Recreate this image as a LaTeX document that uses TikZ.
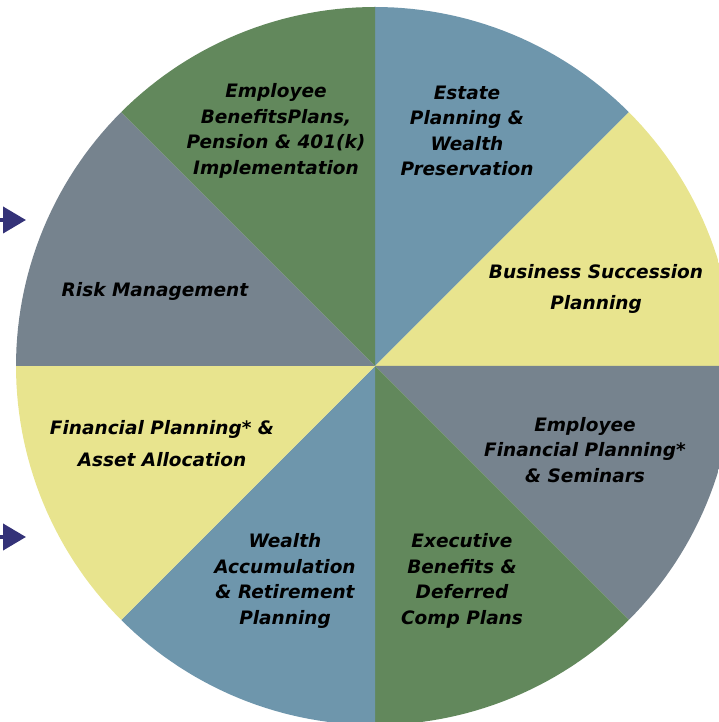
\documentclass[tikz,border=0pt]{standalone}
\usepackage{fontspec}
\setmainfont{DejaVu Sans}
\usetikzlibrary{arrows.meta}

\definecolor{wgreen}{RGB}{98,136,92}
\definecolor{wblue}{RGB}{110,150,172}
\definecolor{wyellow}{RGB}{232,228,142}
\definecolor{wgray}{RGB}{118,131,142}
\definecolor{wnavy}{RGB}{52,50,120}

\tikzset{
  area/.style={font=\fontsize{18.5}{25.5}\selectfont\bfseries\slshape, align=center, text=black},
  pointer/.style={wnavy, line width=4pt, -{Triangle[length=23pt,width=26pt]}}
}

\begin{document}
\begin{tikzpicture}[x=1pt, y=1pt]
    \useasboundingbox (0,0) rectangle (719,722);
    \begin{scope}[shift={(375,356)}]
        \coordinate (c) at (0,0);
        \clip (-375,-356) rectangle (344,366);
        % the rim as a fine polygon
        \clip plot[domain=0:360, samples=241] ({359*cos(\x)}, {359*sin(\x)}) -- cycle;
        % eight wedges, clockwise from the top
        \foreach \a/\col in {90/wblue, 45/wyellow, 0/wgray, -45/wgreen,
                             -90/wblue, -135/wyellow, 180/wgray, 135/wgreen}
            \fill[\col] (c) -- (\a:500) -- (\a-22.5:540) -- (\a-45:500) -- cycle;
    \end{scope}

    \node[area] (ebp) at (276,591) {Employee\\BenefitsPlans,\\Pension \& 401(k)\\Implementation};
    \node[area] (estate) at (467,591) {Estate\\Planning \&\\Wealth\\Preservation};
    \node[area, font=\fontsize{18.5}{31}\selectfont\bfseries\slshape] (succ) at (596,433) {Business Succession\\Planning};
    \node[area] (risk) at (155,431) {Risk Management};
    \node[area] (efp) at (585,272) {Employee\\Financial Planning*\\\& Seminars};
    \node[area, font=\fontsize{18.5}{32}\selectfont\bfseries\slshape] (fpa) at (162,278) {Financial Planning* \&\\Asset Allocation};
    \node[area] (wealth) at (285,141) {Wealth\\Accumulation\\\& Retirement\\Planning};
    \node[area] (exec) at (462,141) {Executive\\Benefits \&\\Deferred\\Comp Plans};

    \coordinate (in1) at (-4,502);
    \coordinate (tip1) at (26,502);
    \coordinate (in2) at (-4,185);
    \coordinate (tip2) at (26,185);
    \draw[pointer] (in1) -- (tip1);
    \draw[pointer] (in2) -- (tip2);
\end{tikzpicture}
\end{document}
